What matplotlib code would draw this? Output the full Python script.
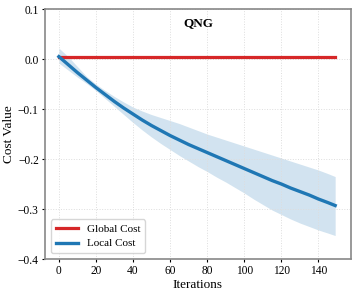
import matplotlib
matplotlib.use("Agg")
import matplotlib.pyplot as plt

plt.rcParams['font.family'] = ['Liberation Serif', 'DejaVu Serif']

iters = [0, 5, 10, 15, 20, 25, 30, 35, 40, 45, 50, 55, 60, 65, 70, 75, 80, 85, 90, 95,
         100, 105, 110, 115, 120, 125, 130, 135, 140, 145, 149]
local_mean = [0.005, -0.011, -0.027, -0.042, -0.057, -0.071, -0.085, -0.098, -0.110, -0.122,
              -0.133, -0.143, -0.153, -0.162, -0.171, -0.179, -0.187, -0.195, -0.203, -0.211,
              -0.219, -0.227, -0.235, -0.243, -0.250, -0.258, -0.265, -0.272, -0.280, -0.287,
              -0.293]
local_upper = [0.022, 0.005, -0.015, -0.035, -0.050, -0.063, -0.075, -0.086, -0.096, -0.104,
               -0.111, -0.117, -0.123, -0.129, -0.136, -0.143, -0.150, -0.156, -0.162, -0.168,
               -0.174, -0.180, -0.186, -0.192, -0.198, -0.204, -0.210, -0.216, -0.222, -0.229,
               -0.235]
local_lower = [-0.008, -0.022, -0.036, -0.049, -0.063, -0.079, -0.095, -0.111, -0.127, -0.142,
               -0.156, -0.169, -0.181, -0.193, -0.204, -0.215, -0.225, -0.236, -0.246, -0.257,
               -0.268, -0.280, -0.291, -0.302, -0.311, -0.320, -0.328, -0.335, -0.342, -0.348,
               -0.353]
global_iters = [0, 149]
global_cost = [0.004, 0.004]

fig = plt.figure(figsize=(3.57, 2.95), dpi=100)
ax = fig.add_axes([0.126, 0.122, 0.857, 0.847])

ax.fill_between(iters, local_lower, local_upper, color='#1f77b4', alpha=0.2, linewidth=0)
ax.plot(global_iters, global_cost, color='#d62728', lw=2.3, label='Global Cost')
ax.plot(iters, local_mean, color='#1f77b4', lw=2.4, label='Local Cost')

ax.set_xlim(-7.5, 157.5)
ax.set_ylim(-0.4, 0.1)
ax.set_xticks([0, 20, 40, 60, 80, 100, 120, 140])
ax.set_yticks([0.1, 0.0, -0.1, -0.2, -0.3, -0.4])
ax.grid(True, color='#dddddd', linestyle=':', linewidth=0.7)
ax.tick_params(labelsize=8.3, length=2.5, width=0.8, pad=2)
for s in ax.spines.values():
    s.set_color('#888888')
    s.set_linewidth(1.2)

ax.set_xlabel('Iterations', fontsize=9.5, labelpad=1)
ax.set_ylabel('Cost Value', fontsize=9.5, labelpad=2)
ax.text(0.5, 0.945, 'QNG', transform=ax.transAxes, ha='center', va='center',
        fontsize=9.5, fontweight='bold')
ax.legend(loc='lower left', fontsize=8, frameon=True, handlelength=2.0,
          borderpad=0.45, labelspacing=0.4, fancybox=True)

fig.savefig('out.png', dpi=100)
